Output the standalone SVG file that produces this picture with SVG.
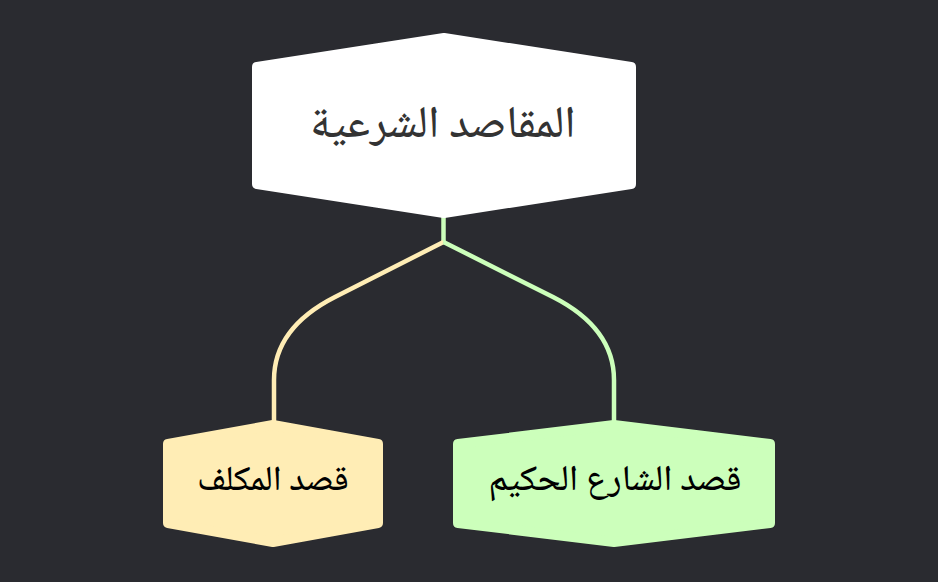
<svg xmlns="http://www.w3.org/2000/svg" width="938" height="582" viewBox="0 0 938 582">
<style>
.node{stroke-linejoin:round;stroke-width:10}
.lbl{font-family:"Noto Naskh Arabic","Liberation Serif",serif;text-anchor:middle;direction:rtl;font-weight:500}
.conn{fill:none;stroke-width:4.5}
</style>
<rect width="938" height="582" fill="#2a2b30"/>
<g id="connectors">
<path class="conn" stroke="#ccffbb" d="M443.5,216 L443.5,242"/>
<path class="conn" stroke="#ffedb5" d="M443.5,242 L335,297 Q274,328 274,380 L274,422"/>
<path class="conn" stroke="#ccffbb" d="M443.5,242 L553,297 Q614,328 614,380 L614,422"/>
</g>
<g id="root">
<polygon class="node" fill="#ffffff" stroke="#ffffff" points="444,38 631,67 631,184 444,213 257,184 257,67"/>
<text class="lbl" x="443" y="137" font-size="45" fill="#333333">المقاصد الشرعية</text>
</g>
<g id="mukallaf">
<polygon class="node" fill="#ffedb5" stroke="#ffedb5" points="273,425 378,444 378,523 273,542 168,523 168,444"/>
<text class="lbl" x="273" y="490" font-size="35" fill="#000000">قصد المكلف</text>
</g>
<g id="shari">
<polygon class="node" fill="#ccffbb" stroke="#ccffbb" points="614,425 770,444 770,523 614,542 458,523 458,444"/>
<text class="lbl" x="615" y="490" font-size="36" fill="#000000">قصد الشارع الحكيم</text>
</g>
</svg>
